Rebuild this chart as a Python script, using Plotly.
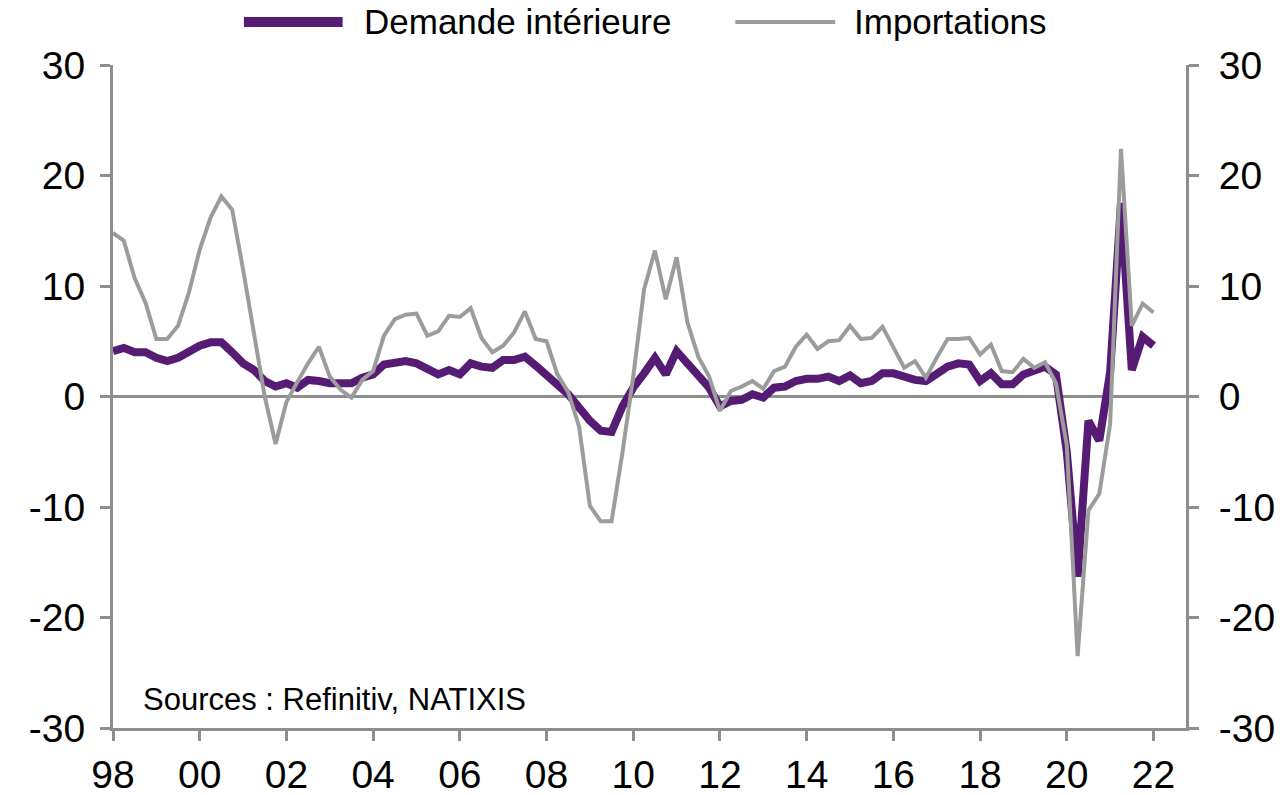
import plotly.graph_objects as go

# Quarterly data, 1998Q1 .. 2022Q1 (year-on-year %)
start_year = 1998
demande_interieure = [
    4.1, 4.4, 4.0, 4.0, 3.5, 3.2, 3.5, 4.1, 4.6, 4.9, 4.9, 4.0, 3.0, 2.4, 1.4, 0.9,
    1.2, 0.8, 1.5, 1.4, 1.2, 1.2, 1.2, 1.7, 2.0, 2.9, 3.1, 3.2, 3.0, 2.4, 2.0, 2.4,
    2.0, 3.0, 2.7, 2.6, 3.3, 3.3, 3.6, 2.8, 2.0, 1.1, 0.2, -1.0, -2.2, -3.1, -3.2, -0.9,
    0.8, 2.1, 3.5, 2.0, 4.1, 3.0, 1.8, 0.8, -0.9, -0.4, -0.3, 0.2, -0.1, 0.8, 0.9, 1.4,
    1.6, 1.6, 1.8, 1.4, 1.9, 1.2, 1.4, 2.1, 2.1, 1.8, 1.5, 1.4, 2.1, 2.7, 3.0, 2.9,
    1.4, 2.1, 1.1, 1.1, 2.0, 2.3, 2.7, 2.0, -5.0, -16.3, -2.2, -4.0, 2.2, 17.5, 2.4, 5.4,
    4.6,
]
importations = [
    14.8, 14.1, 10.7, 8.5, 5.2, 5.2, 6.4, 9.4, 13.3, 16.2, 18.1, 16.9, 11.5, 5.5, 0.0, -4.3,
    -0.5, 1.3, 3.0, 4.5, 1.8, 0.6, -0.1, 1.5, 2.3, 5.5, 7.0, 7.4, 7.5, 5.5, 5.9, 7.3,
    7.2, 8.0, 5.3, 4.0, 4.6, 5.8, 7.7, 5.2, 5.0, 2.0, 0.4, -2.7, -9.9, -11.3, -11.3, -5.1,
    1.8, 9.7, 13.2, 8.8, 12.6, 6.7, 3.6, 1.8, -1.3, 0.5, 0.9, 1.4, 0.7, 2.3, 2.7, 4.5,
    5.6, 4.3, 5.0, 5.1, 6.4, 5.2, 5.3, 6.3, 4.5, 2.6, 3.2, 1.7, 3.5, 5.2, 5.2, 5.3,
    3.8, 4.7, 2.3, 2.2, 3.4, 2.6, 3.1, 1.2, -4.4, -23.5, -10.3, -8.8, -2.5, 22.4, 6.4, 8.4,
    7.6,
]
x_tick_years = list(range(1998, 2023, 2))
x_tick_labels = ["98", "00", "02", "04", "06", "08", "10", "12", "14", "16", "18", "20", "22"]
y_tick_vals = [-30, -20, -10, 0, 10, 20, 30]
y_tick_labels = ["-30", "-20", "-10", "0", "10", "20", "30"]

x_vals = [start_year + i / 4 for i in range(len(importations))]

PURPLE = "#561C74"
GRAY = "#9C9C9C"
AXIS = "#8E8E8E"
FONT = "Liberation Sans, Arial, sans-serif"

fig = go.Figure()
fig.add_trace(go.Scatter(x=x_vals, y=demande_interieure, mode="lines",
                         line=dict(color=PURPLE, width=8), name="Demande intérieure",
                         showlegend=False, yaxis="y"))
fig.add_trace(go.Scatter(x=x_vals, y=importations, mode="lines",
                         line=dict(color=GRAY, width=4), name="Importations",
                         showlegend=False, yaxis="y2"))

yax = dict(range=[-30, 30], tickvals=y_tick_vals, ticktext=y_tick_labels,
           showgrid=False, showline=True, linecolor=AXIS, linewidth=3,
           ticks="outside", ticklen=10, tickwidth=3, tickcolor=AXIS, automargin=False,
           tickfont=dict(family=FONT, size=39, color="black"))

fig.update_layout(
    width=1284, height=795,
    margin=dict(l=113, r=98, t=65, b=67),
    paper_bgcolor="white", plot_bgcolor="white",
    xaxis=dict(range=[1998, 2022.75], tickvals=x_tick_years, ticktext=x_tick_labels,
               showgrid=False, zeroline=False, showline=True, linecolor=AXIS, linewidth=3,
               ticks="outside", ticklen=10, tickwidth=3, tickcolor=AXIS, automargin=False,
               tickfont=dict(family=FONT, size=39, color="black"), ticklabelstandoff=0),
    yaxis=dict(**yax, side="left", zeroline=True, zerolinecolor=AXIS, zerolinewidth=3,
               ticklabelstandoff=7),
    yaxis2=dict(**yax, side="right", overlaying="y", zeroline=False, ticklabelstandoff=12),
    showlegend=False,
)

# Manual legend (long line samples)
leg_y = 1.065
fig.add_shape(type="line", xref="paper", yref="paper", x0=0.122, x1=0.214, y0=leg_y, y1=leg_y,
              line=dict(color=PURPLE, width=10))
fig.add_shape(type="line", xref="paper", yref="paper", x0=0.580, x1=0.673, y0=leg_y, y1=leg_y,
              line=dict(color=GRAY, width=4))
fig.add_annotation(text="Demande intérieure", xref="paper", yref="paper", x=0.232, y=leg_y,
                   xanchor="left", yanchor="middle", showarrow=False,
                   font=dict(family=FONT, size=35, color="black"))
fig.add_annotation(text="Importations", xref="paper", yref="paper", x=0.689, y=leg_y,
                   xanchor="left", yanchor="middle", showarrow=False,
                   font=dict(family=FONT, size=35, color="black"))
fig.add_annotation(text="Sources : Refinitiv, NATIXIS", xref="paper", yref="paper",
                   x=0.026, y=0.043, xanchor="left", yanchor="middle", showarrow=False,
                   font=dict(family=FONT, size=31, color="black"))

# Remove default page margin so the figure sits at the window's top-left corner
fig.write_html("out.html", config={"displayModeBar": False},
               post_script="document.body.style.margin='0';")
